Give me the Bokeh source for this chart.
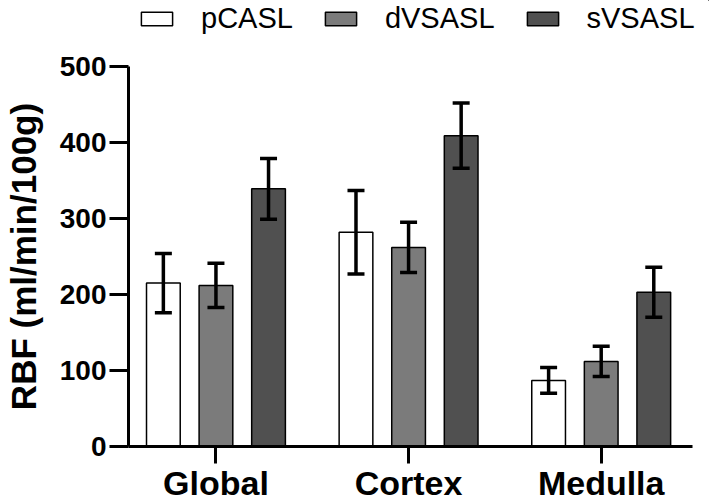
from bokeh.plotting import figure
from bokeh.models import (ColumnDataSource, Range1d, FixedTicker, Whisker, TeeHead,
                          Legend, LegendItem)
from bokeh.embed import file_html
from bokeh.resources import INLINE

categories = ["Global", "Cortex", "Medulla"]
series = ["pCASL", "dVSASL", "sVSASL"]
pcasl_mean = [215, 282, 87]
pcasl_sd = [39, 55, 17]
dvsasl_mean = [212, 262, 112]
dvsasl_sd = [29, 33, 20]
svsasl_mean = [339, 409, 203]
svsasl_sd = [40, 43, 33]
y_ticks = [0, 100, 200, 300, 400, 500]
colors = ["#ffffff", "#7b7b7b", "#505050"]

means = [pcasl_mean, dvsasl_mean, svsasl_mean]
sds = [pcasl_sd, dvsasl_sd, svsasl_sd]
offsets = [-0.273, 0.0, 0.273]
bar_w = 0.175
FONT = "Liberation Sans"

LEG_H = 37
W, H = 709, 504

sources = []
for i, name in enumerate(series):
    xs = [k + 1 + offsets[i] for k in range(len(categories))]
    sources.append(ColumnDataSource(dict(
        x=xs, top=means[i],
        upper=[m + s for m, s in zip(means[i], sds[i])],
        lower=[m - s for m, s in zip(means[i], sds[i])])))

# ---- legend strip (its frame shows no bars; only the legend) ----
lg = figure(width=W, height=LEG_H, output_backend="svg", toolbar_location=None,
            x_range=Range1d(-2, -1), y_range=Range1d(-2, -1),
            x_axis_type=None, y_axis_type=None,
            min_border_left=0, min_border_right=0, min_border_top=0, min_border_bottom=0)
lg.outline_line_color = None
lg.xgrid.visible = False
lg.ygrid.visible = False
items = []
for i, name in enumerate(series):
    r = lg.vbar(x="x", top="top", bottom=0, width=bar_w, source=sources[i],
                fill_color=colors[i], line_color="black", line_width=1.5)
    items.append(LegendItem(label=name, renderers=[r]))
legend = Legend(items=items, orientation="horizontal", location=(137, 2))
legend.label_text_font = FONT
legend.label_text_font_size = "29px"
legend.label_text_color = "black"
legend.glyph_width = 39
legend.glyph_height = 17
legend.label_standoff = 25
legend.spacing = 28
legend.padding = 0
legend.margin = 0
legend.border_line_color = None
legend.background_fill_alpha = 0
lg.add_layout(legend)

# ---- main plot ----
p = figure(width=W, height=H - LEG_H, output_backend="svg", toolbar_location=None,
           x_range=Range1d(0.546, 3.474), y_range=Range1d(0, 500),
           min_border_left=124, min_border_right=17, min_border_top=66 - LEG_H,
           min_border_bottom=58)
p.outline_line_color = None
p.xgrid.visible = False
p.ygrid.visible = False

for i, name in enumerate(series):
    src = sources[i]
    p.vbar(x="x", top="top", bottom=0, width=bar_w, source=src,
           fill_color=colors[i], line_color="black", line_width=1.5)
    w = Whisker(source=src, base="x", upper="upper", lower="lower",
                line_color="black", line_width=3.5, level="overlay",
                upper_head=TeeHead(size=17, line_color="black", line_width=3.5),
                lower_head=TeeHead(size=17, line_color="black", line_width=3.5))
    p.add_layout(w)

for ax in (p.xaxis[0], p.yaxis[0]):
    ax.axis_line_width = 3
    ax.axis_line_color = "black"
    ax.major_tick_line_width = 3
    ax.major_tick_line_color = "black"
    ax.major_tick_in = 0
    ax.minor_tick_line_color = None
    ax.major_label_text_font = FONT
    ax.major_label_text_font_style = "bold"
    ax.major_label_text_color = "black"

p.xaxis.ticker = FixedTicker(ticks=[1, 2, 3])
p.xaxis.major_label_overrides = {k + 1: c for k, c in enumerate(categories)}
p.xaxis.major_label_text_font_size = "34px"
p.xaxis.major_tick_out = 17
p.xaxis.major_label_standoff = 0

p.yaxis.ticker = FixedTicker(ticks=y_ticks)
p.yaxis.major_label_text_font_size = "28px"
p.yaxis.major_tick_out = 19
p.yaxis.major_label_standoff = 3
p.yaxis.axis_label = "RBF (ml/min/100g)"
p.yaxis.axis_label_text_font = FONT
p.yaxis.axis_label_text_font_style = "bold"
p.yaxis.axis_label_text_font_size = "35px"
p.yaxis.axis_label_text_color = "black"
p.yaxis.axis_label_standoff = 14

open("out.html", "w").write(file_html([lg, p], INLINE))
